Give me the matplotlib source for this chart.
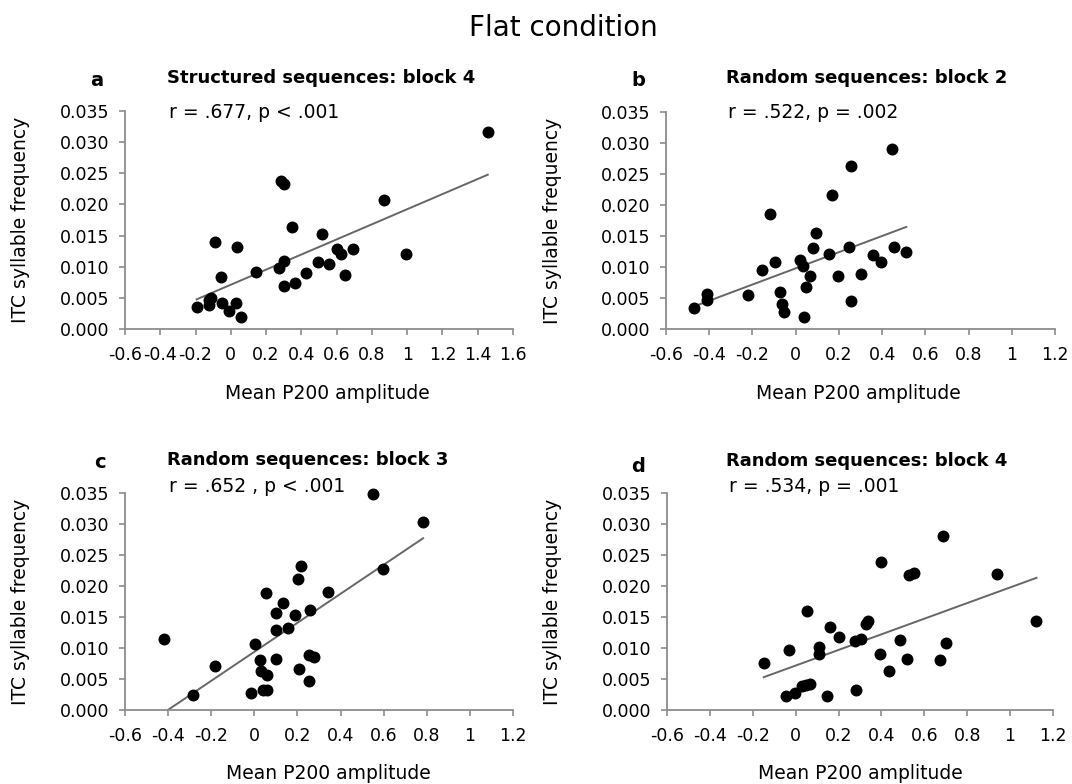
import matplotlib.pyplot as plt
import numpy as np
from matplotlib.ticker import FuncFormatter

plt.rcParams["font.family"] = ["DejaVu Sans"]

W, H = 1072, 784

# a: Structured sequences, block 4
a_x = [-0.194, -0.121, -0.112, -0.121, -0.092, -0.057, -0.051, -0.012, 0.031, 0.060,
       0.037, 0.140, 0.275, 0.285, 0.300, 0.304, 0.304, 0.363, 0.349, 0.427,
       0.496, 0.519, 0.558, 0.603, 0.623, 0.646, 0.691, 0.871, 0.992, 1.457]
a_y = [0.0035, 0.0046, 0.0050, 0.0038, 0.0139, 0.0083, 0.0042, 0.0029, 0.0042, 0.0019,
       0.0131, 0.0092, 0.0098, 0.0237, 0.0233, 0.0109, 0.0069, 0.0074, 0.0164, 0.0090,
       0.0108, 0.0152, 0.0104, 0.0128, 0.0120, 0.0087, 0.0129, 0.0207, 0.0121, 0.0317]

# b: Random sequences, block 2
b_x = [-0.470, -0.408, -0.408, -0.221, -0.154, -0.117, -0.094, -0.073, -0.065, -0.054,
       0.020, 0.034, 0.039, 0.047, 0.066, 0.079, 0.095, 0.154, 0.167, 0.196,
       0.247, 0.255, 0.255, 0.304, 0.360, 0.397, 0.448, 0.453, 0.512]
b_y = [0.0034, 0.0057, 0.0046, 0.0055, 0.0095, 0.0186, 0.0108, 0.0059, 0.0041, 0.0027,
       0.0112, 0.0102, 0.0020, 0.0067, 0.0085, 0.0130, 0.0155, 0.0121, 0.0216, 0.0085,
       0.0132, 0.0263, 0.0045, 0.0089, 0.0120, 0.0108, 0.0291, 0.0132, 0.0125]

# c: Random sequences, block 3
c_x = [-0.419, -0.283, -0.183, -0.015, 0.001, 0.024, 0.032, 0.040, 0.057, 0.060,
       0.052, 0.100, 0.100, 0.100, 0.135, 0.156, 0.188, 0.201, 0.215, 0.209,
       0.252, 0.252, 0.276, 0.260, 0.340, 0.551, 0.599, 0.783]
c_y = [0.0114, 0.0024, 0.0071, 0.0028, 0.0107, 0.0081, 0.0063, 0.0032, 0.0032, 0.0056,
       0.0188, 0.0156, 0.0129, 0.0082, 0.0172, 0.0133, 0.0153, 0.0211, 0.0233, 0.0066,
       0.0047, 0.0088, 0.0086, 0.0161, 0.0190, 0.0349, 0.0228, 0.0303]

# d: Random sequences, block 4
d_x = [-0.149, -0.046, -0.033, -0.001, 0.031, 0.047, 0.066, 0.055, 0.108, 0.111,
       0.148, 0.159, 0.204, 0.276, 0.304, 0.283, 0.328, 0.336, 0.400, 0.395,
       0.435, 0.488, 0.517, 0.528, 0.552, 0.673, 0.686, 0.700, 0.941, 1.123]
d_y = [0.0076, 0.0023, 0.0096, 0.0028, 0.0038, 0.0040, 0.0042, 0.0160, 0.0102, 0.0090,
       0.0023, 0.0134, 0.0118, 0.0111, 0.0115, 0.0033, 0.0138, 0.0143, 0.0239, 0.0090,
       0.0063, 0.0113, 0.0083, 0.0217, 0.0221, 0.0081, 0.0280, 0.0108, 0.0220, 0.0143]

letters = ["a", "b", "c", "d"]
titles = ["Structured sequences: block 4", "Random sequences: block 2",
          "Random sequences: block 3", "Random sequences: block 4"]
stats = ["r = .677, p < .001", "r = .522, p = .002",
         "r = .652 , p < .001", "r = .534, p = .001"]
xmax = [1.6, 1.2, 1.2, 1.2]
y_ticks = [0.000, 0.005, 0.010, 0.015, 0.020, 0.025, 0.030, 0.035]

# pixel layout: (left, right, top, bottom) of each axes
boxes = [(125, 513, 111, 329), (666, 1055, 112, 329),
         (125, 513, 493, 710), (667, 1053, 493, 710)]
letter_pos = [(97, 80), (638, 80), (100, 463), (638, 466)]
title_pos = [(167, 78), (726, 78), (167, 460), (726, 461)]
stat_pos = [(169, 113), (728, 113), (169, 487), (729, 487)]
ylab_x = [30, 562, 30, 562]
xlab_cx = [327, 858, 328, 860]
xlab_top = [384, 384, 764, 764]

data = [(a_x, a_y), (b_x, b_y), (c_x, c_y), (d_x, d_y)]


def fmt_x(v, pos):
    if abs(v) < 1e-9:
        return "0"
    return f"{round(v, 1):g}"


fig = plt.figure(figsize=(W / 100, H / 100), dpi=100)
fig.text(563 / W, 1 - 28 / H, "Flat condition", ha="center", va="center", fontsize=20)

gray = "#8c8c8c"
for i, (xs, ys) in enumerate(data):
    l, r, t, b = boxes[i]
    ax = fig.add_axes([l / W, 1 - b / H, (r - l) / W, (b - t) / H])
    xs = np.array(xs)
    ys = np.array(ys)
    ax.scatter(xs, ys, s=74, color="black", zorder=3, clip_on=False, linewidths=0)
    k, c0 = np.polyfit(xs, ys, 1)
    lx = np.array([xs.min(), xs.max()])
    ax.plot(lx, k * lx + c0, color="#666666", lw=1.4, zorder=2)

    ax.set_xlim(-0.6, xmax[i])
    ax.set_ylim(0, 0.035)
    ax.set_xticks(np.arange(-0.6, xmax[i] + 0.01, 0.2))
    ax.set_yticks(y_ticks)
    ax.xaxis.set_major_formatter(FuncFormatter(fmt_x))
    ax.yaxis.set_major_formatter(FuncFormatter(lambda v, p: f"{v:.3f}"))
    for s in ["top", "right"]:
        ax.spines[s].set_visible(False)
    for s in ["left", "bottom"]:
        ax.spines[s].set_color(gray)
        ax.spines[s].set_linewidth(1.3)
    ax.tick_params(direction="out", length=4, width=1.2, color=gray, labelsize=12.5)
    ax.tick_params(axis="x", pad=8)
    ax.tick_params(axis="y", pad=7)

    ax.set_ylabel("ITC syllable frequency", fontsize=13.5)
    ax.set_xlabel("Mean P200 amplitude", fontsize=13.5)
    ax.yaxis.set_label_coords((ylab_x[i] - l) / (r - l), 0.5)
    ax.xaxis.set_label_coords((xlab_cx[i] - l) / (r - l), (b - xlab_top[i]) / (b - t))

    lx_, ly_ = letter_pos[i]
    fig.text(lx_ / W, 1 - ly_ / H, letters[i], ha="center", va="center",
             fontsize=14, fontweight="bold")
    tx, ty = title_pos[i]
    fig.text(tx / W, 1 - ty / H, titles[i], ha="left", va="center",
             fontsize=13, fontweight="bold")
    sx, sy = stat_pos[i]
    fig.text(sx / W, 1 - sy / H, stats[i], ha="left", va="center", fontsize=13.5)

fig.savefig("out.png", dpi=100)
